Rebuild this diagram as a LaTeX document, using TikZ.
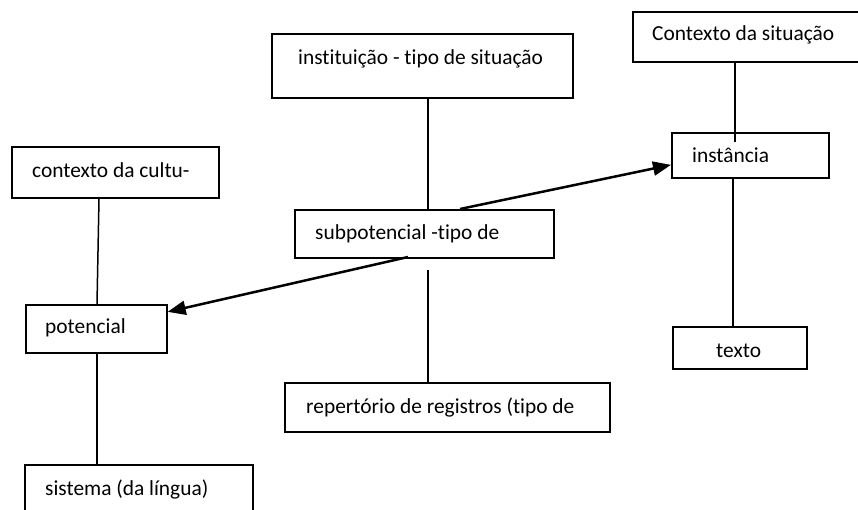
\documentclass[tikz,border=0pt]{standalone}
\usepackage{fontspec}
\setmainfont{Carlito}[Ligatures={NoCommon}]
\usetikzlibrary{arrows.meta,calc}
\begin{document}
\begin{tikzpicture}[x=1pt,y=-1pt,
  box/.style={draw=black,line width=1.7pt,fill=white,rectangle,inner sep=0pt},
  txt/.style={font=\fontsize{21.4}{25}\selectfont,inner sep=0pt,anchor=base west},
  link/.style={draw=black,line width=1.5pt},
  arr/.style={draw=black,line width=2.5pt,-{Triangle[length=18pt,width=14pt]}}]
\useasboundingbox (0,0) rectangle (858,510);
\clip (0,0) rectangle (858,510);
% boxes
\node[box,anchor=north west,minimum width=301pt,minimum height=64pt] (inst) at (271,33) {};
\node[box,anchor=north west,minimum width=240pt,minimum height=50pt] (ctxs) at (632,11) {};
\node[box,anchor=north west,minimum width=157pt,minimum height=45pt] (ins) at (671,132) {};
\node[box,anchor=north west,minimum width=207pt,minimum height=51pt] (cult) at (11,146) {};
\node[box,anchor=north west,minimum width=259pt,minimum height=48pt] (sub) at (294,209) {};
\node[box,anchor=north west,minimum width=141pt,minimum height=48pt] (pot) at (25,304) {};
\node[box,anchor=north west,minimum width=134pt,minimum height=42pt] (tex) at (672,326) {};
\node[box,anchor=north west,minimum width=325pt,minimum height=49pt] (rep) at (284,382) {};
\node[box,anchor=north west,minimum width=228pt,minimum height=60pt] (sis) at (24,464) {};
% texts
\node[txt] (tinst) at (298,65) {instituição - tipo de situação};
\node[txt] (tctxs) at (652,41) {Contexto da situação};
\node[txt] (tins) at (692,163) {instância};
\node[txt] (tcult) at (32,178) {contexto da cultu-};
\node[txt] (tsub) at (315,240) {subpotencial -tipo de};
\node[txt] (tpot) at (45,333) {potencial};
\node[txt] (ttex) at (716,357) {texto};
\node[txt] (trep) at (306,413) {repertório de registros (tipo de};
\node[txt] (tsis) at (45,495) {sistema (da língua)};
% helper coordinates for line positions
\coordinate (cx) at (428,0);
\coordinate (rx) at (735,0);
\coordinate (rx2) at (733,0);
\coordinate (lx1) at (99,0);
\coordinate (lx2) at (97,0);
\coordinate (a1) at (460,209);
\coordinate (a2) at (408,257);
% connectors
\draw[link] (inst.south -| cx) -- (sub.north -| cx);
\draw[link] ([yshift=-11pt]sub.south -| cx) -- (rep.north -| cx);
\draw[link] (ctxs.south -| rx) -- ([yshift=-10pt]ins.north -| rx);
\draw[link] (ins.south -| rx2) -- (tex.north -| rx2);
\draw[link] (cult.south -| lx1) -- (pot.north -| lx2);
\draw[link] (pot.south -| lx2) -- (sis.north -| lx2);
% arrows
\draw[arr] (a1) -- ([yshift=-9.5pt]ins.west);
\draw[arr] (a2) -- ([yshift=17pt]pot.east);
\end{tikzpicture}
\end{document}
